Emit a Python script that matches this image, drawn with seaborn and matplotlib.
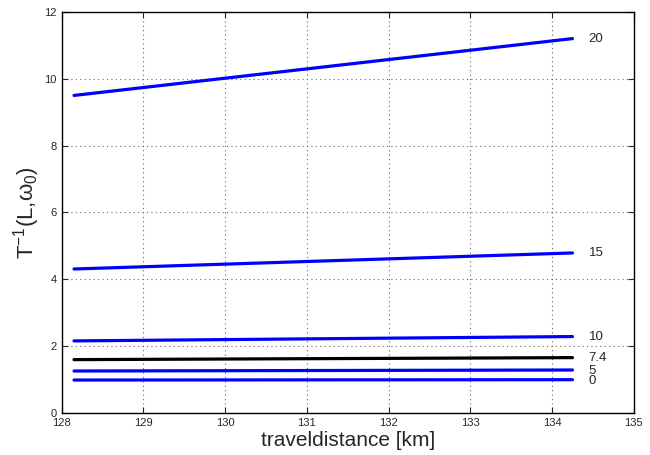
import pandas as pd
import matplotlib
matplotlib.use('Agg')
import matplotlib.pyplot as plt
import seaborn as sns

# data (start / end of each line)
distance = [128.15, 134.25]
labels = ['20', '15', '10', '7.4', '5', '0']
start_vals = [9.50, 4.31, 2.16, 1.60, 1.26, 0.99]
end_vals = [11.20, 4.79, 2.29, 1.66, 1.29, 1.00]
line_colors = ['#0000ff', '#0000ff', '#0000ff', '#000000', '#0000ff', '#0000ff']
label_offsets = [0.0, 0.0, 0.0, 0.0, -0.02, -0.05]

rows = []
for lab, s, e in zip(labels, start_vals, end_vals):
    rows.append({'dist': distance[0], 'val': s, 'omega': lab})
    rows.append({'dist': distance[1], 'val': e, 'omega': lab})
df = pd.DataFrame(rows)

sns.set_style('white')
plt.rcParams['font.family'] = ['Liberation Sans', 'DejaVu Sans']
plt.rcParams['mathtext.fontset'] = 'custom'
plt.rcParams['mathtext.rm'] = 'Liberation Sans'
plt.rcParams['mathtext.it'] = 'Liberation Sans'

fig = plt.figure(figsize=(6.5, 4.55), dpi=100)
ax = fig.add_axes([0.095, 0.092, 0.88, 0.882])

sns.lineplot(data=df, x='dist', y='val', hue='omega', hue_order=labels,
             palette=dict(zip(labels, line_colors)), linewidth=2.3,
             legend=False, ax=ax)

for lab, e, off in zip(labels, end_vals, label_offsets):
    ax.text(134.45, e + off, lab, fontsize=9.5, va='center', ha='left')

ax.set_xlim(128, 135)
ax.set_ylim(0, 12)
ax.set_xticks(range(128, 136))
ax.set_yticks(range(0, 13, 2))
ax.grid(True, linestyle=(0, (1, 3)), color='#666666', linewidth=0.8)
ax.tick_params(direction='in', labelsize=8, length=4, width=0.8,
               top=True, right=True, bottom=True, left=True)
for sp in ax.spines.values():
    sp.set_linewidth(1.0)
    sp.set_color('black')

ax.set_xlabel('traveldistance [km]', fontsize=15, labelpad=2)
ax.set_ylabel(r'T$^{-1}$(L,$\omega_0$)', fontsize=16, labelpad=2)

fig.savefig('out.png', dpi=100)
